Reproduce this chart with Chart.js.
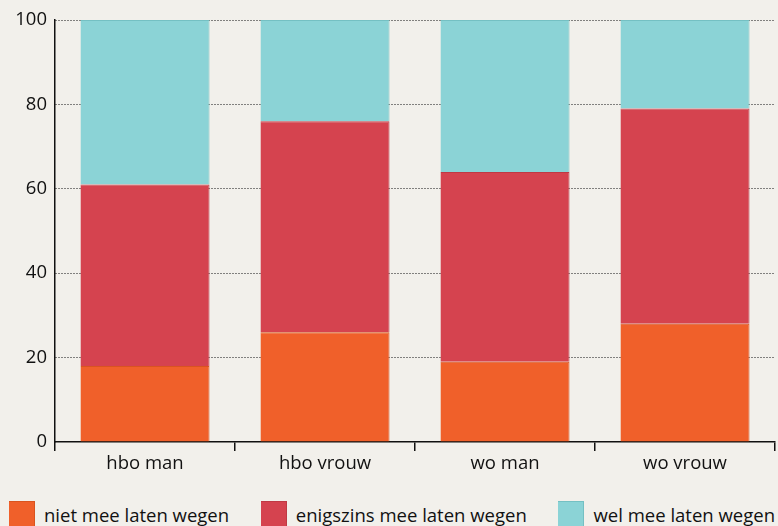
<!DOCTYPE html>
<html>
<head>
<meta charset="utf-8">
<script src="https://cdn.jsdelivr.net/npm/chart.js@4"></script>
<style>
  html, body { margin: 0; padding: 0; background: #f2f0eb; }
  #wrap { width: 778px; height: 526px; position: relative; }
  #chart { display: block; }
  #legend {
    position: absolute; left: 9px; right: 3px; top: 501px; height: 26px;
    display: flex; justify-content: space-between; align-items: center;
    font-family: "Open Sans", sans-serif; font-size: 18.5px; color: #111;
  }
  #legend .item { display: flex; align-items: center; }
  #legend .box { width: 26px; height: 26px; margin-right: 9px; box-sizing: border-box; }
</style>
</head>
<body>
<div id="wrap">
  <canvas id="chart" width="778" height="480"></canvas>
  <div id="legend"></div>
</div>
<script>
const categories = ["hbo man", "hbo vrouw", "wo man", "wo vrouw"];
const niet = [18, 26, 19, 28];
const enigszins = [43, 50, 45, 51];
const wel = [39, 24, 36, 21];
const yTicks = [0, 20, 40, 60, 80, 100];

const bgPlugin = {
  id: "bg",
  beforeDraw(chart) {
    const ctx = chart.ctx;
    ctx.save();
    ctx.fillStyle = "#f2f0eb";
    ctx.fillRect(0, 0, chart.width, chart.height);
    ctx.restore();
  }
};

Chart.defaults.font.family = "'Open Sans', sans-serif";
Chart.defaults.font.size = 18.5;
Chart.defaults.color = "#111";

const ctx = document.getElementById("chart").getContext("2d");
const chart = new Chart(ctx, {
  type: "bar",
  data: {
    labels: categories,
    datasets: [
      { label: "niet mee laten wegen", data: niet, backgroundColor: "#f0602a", borderColor: "#d9541f" },
      { label: "enigszins mee laten wegen", data: enigszins, backgroundColor: "#d5434f", borderColor: "#bf3944" },
      { label: "wel mee laten wegen", data: wel, backgroundColor: "#8bd3d6", borderColor: "#74c0c3" }
    ].map(d => Object.assign(d, {
      borderWidth: { top: 1, right: 1, left: 0, bottom: 0 },
      borderSkipped: false,
      categoryPercentage: 1,
      barPercentage: 0.717
    }))
  },
  options: {
    responsive: false,
    animation: false,
    layout: { padding: { left: 0, right: 3, top: 20, bottom: 0 } },
    plugins: {
      tooltip: { enabled: false },
      legend: { display: false }
    },
    scales: {
      x: {
        stacked: true,
        offset: true,
        grid: {
          offset: true,
          drawOnChartArea: false,
          drawTicks: true,
          tickLength: 9,
          color: "#111",
          lineWidth: 1.5
        },
        border: { display: true, color: "#111", width: 1.5 },
        ticks: { padding: 2 },
        afterFit(scale) { scale.height = 38; }
      },
      y: {
        stacked: true,
        min: 0,
        max: 100,
        z: 1,
        afterBuildTicks(scale) { scale.ticks = yTicks.map(v => ({ value: v })); },
        grid: {
          drawTicks: false,
          color: (c) => c.tick && c.tick.value === 0 ? "rgba(0,0,0,0)" : "#111",
          lineWidth: 1
        },
        border: { display: true, color: "#111", width: 1.5, dash: [1, 2] },
        ticks: { padding: 8 },
        afterFit(scale) { scale.width = 55; }
      }
    }
  },
  plugins: [bgPlugin]
});

// legend built from the chart's datasets
const legend = document.getElementById("legend");
chart.data.datasets.forEach(ds => {
  const item = document.createElement("div");
  item.className = "item";
  item.innerHTML = `<span class="box" style="background:${ds.backgroundColor};border-top:1px solid ${ds.borderColor};border-right:1px solid ${ds.borderColor}"></span><span>${ds.label}</span>`;
  legend.appendChild(item);
});
</script>
</body>
</html>
